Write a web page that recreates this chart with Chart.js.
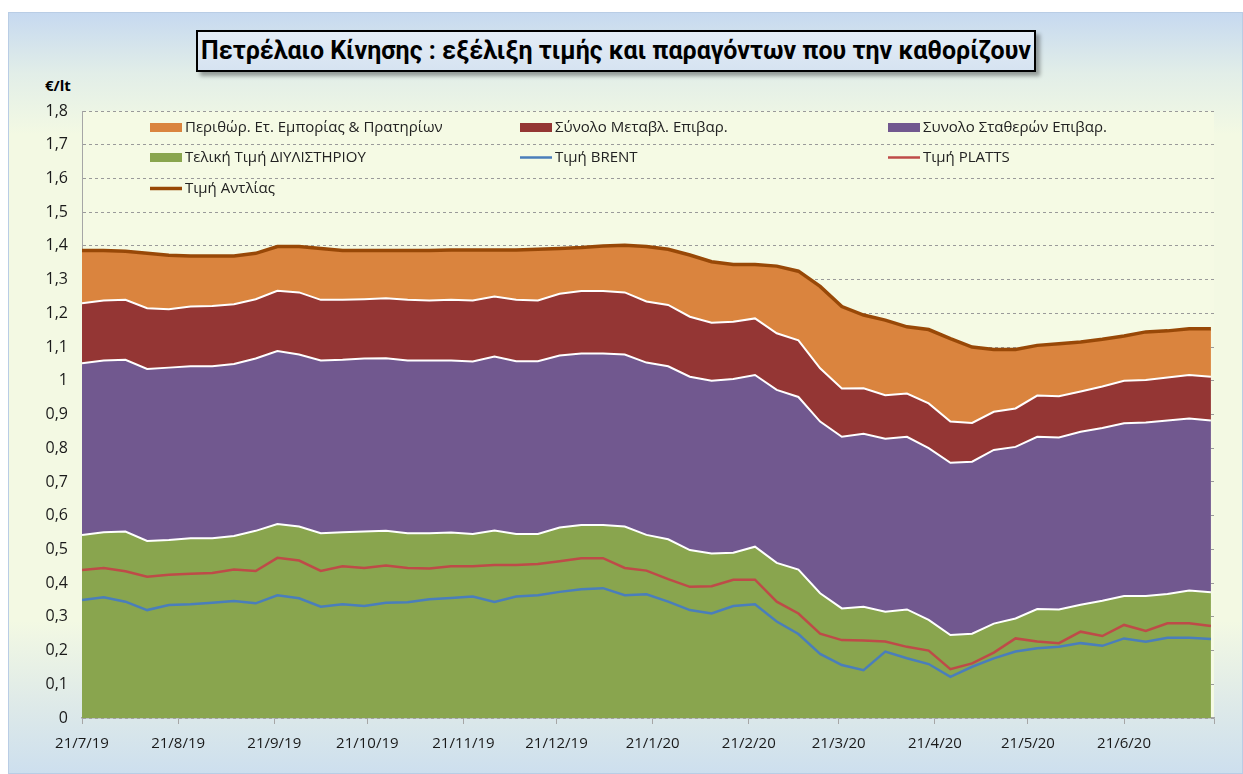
<!DOCTYPE html>
<html>
<head>
<meta charset="utf-8">
<script src="https://cdn.jsdelivr.net/npm/chart.js@4"></script>
<style>
  body{ margin:0; background:#fff; width:1243px; height:774px; overflow:hidden; font-family:"Open Sans", sans-serif; }
  #frame{
    position:absolute; left:8px; top:12px; width:1235px; height:762px;
    box-sizing:border-box; border:1px solid #B9CDE5;
    background:linear-gradient(to bottom,#C6D9F0 0%,#E2EEE8 8%,#F3F9E3 16%,#F3F9E3 80%,#E0EBE8 90%,#CDDFEE 100%);
  }
  #title{
    position:absolute; left:196px; top:30px; width:840px; height:42px; box-sizing:border-box;
    border:2px solid #000; background:linear-gradient(to bottom,#E4EDF7,#D6E3F1);
    box-shadow:4px 4px 4px rgba(0,0,0,0.35); white-space:nowrap;
    font-family:Roboto, sans-serif; font-weight:bold; font-size:25px; line-height:38px; text-align:center; color:#000;
  }
  #unit{ position:absolute; left:45px; top:75px; font-weight:bold; font-size:15px; color:#000; }
  canvas{ position:absolute; left:0; top:0; }
</style>
</head>
<body>
<div id="frame"></div>
<div id="title">Πετρέλαιο Κίνησης : εξέλιξη τιμής και παραγόντων που την καθορίζουν</div>
<div id="unit">€/lt</div>
<canvas id="chart" width="1243" height="774"></canvas>
<script>

// weekly samples
const dates = [
    '21/7/19','28/7/19','4/8/19','11/8/19','18/8/19','25/8/19','1/9/19','8/9/19','15/9/19','22/9/19','29/9/19',
    '6/10/19','13/10/19','20/10/19','27/10/19','3/11/19','10/11/19','17/11/19','24/11/19','1/12/19','8/12/19',
    '15/12/19','22/12/19','29/12/19','5/1/20','12/1/20','19/1/20','26/1/20','2/2/20','9/2/20','16/2/20','23/2/20',
    '1/3/20','8/3/20','15/3/20','22/3/20','29/3/20','5/4/20','12/4/20','19/4/20','26/4/20','3/5/20','10/5/20',
    '17/5/20','24/5/20','31/5/20','7/6/20','14/6/20','21/6/20','28/6/20','5/7/20','12/7/20','19/7/20'
];

const refineryPrice = [
    0.543,0.551,0.553,0.525,0.528,0.533,0.533,0.540,0.555,0.575,0.568,
    0.548,0.551,0.553,0.555,0.548,0.548,0.550,0.546,0.556,0.546,
    0.546,0.565,0.572,0.572,0.568,0.543,0.530,0.498,0.488,0.490,0.508,
    0.460,0.440,0.370,0.325,0.330,0.315,0.322,0.291,0.246,0.250,0.280,
    0.295,0.323,0.322,0.336,0.348,0.362,0.362,0.368,0.378,0.373
];

const fixedTaxes = [
    0.509,0.509,0.509,0.510,0.511,0.510,0.510,0.510,0.511,0.513,0.510,
    0.512,0.511,0.513,0.512,0.512,0.512,0.510,0.511,0.516,0.512,
    0.512,0.510,0.509,0.509,0.510,0.511,0.513,0.514,0.512,0.515,0.509,
    0.513,0.512,0.509,0.509,0.513,0.513,0.512,0.509,0.511,0.510,0.515,
    0.509,0.511,0.510,0.513,0.512,0.512,0.514,0.514,0.510,0.509
];

const variableTaxes = [
    0.178,0.178,0.178,0.180,0.173,0.177,0.179,0.177,0.176,0.179,0.184,
    0.180,0.178,0.176,0.178,0.180,0.178,0.180,0.181,0.178,0.182,
    0.180,0.183,0.185,0.185,0.184,0.181,0.182,0.178,0.172,0.170,0.168,
    0.168,0.168,0.158,0.143,0.135,0.129,0.128,0.133,0.122,0.115,0.113,
    0.114,0.122,0.122,0.119,0.123,0.126,0.126,0.128,0.129,0.130
];

const retailMargin = [
    0.156,0.148,0.144,0.163,0.160,0.150,0.148,0.143,0.136,0.131,0.136,
    0.152,0.146,0.144,0.141,0.146,0.148,0.148,0.150,0.138,0.148,
    0.152,0.134,0.129,0.134,0.140,0.163,0.165,0.183,0.181,0.170,0.160,
    0.199,0.205,0.243,0.243,0.217,0.223,0.198,0.219,0.246,0.225,0.185,
    0.175,0.149,0.156,0.147,0.140,0.133,0.143,0.138,0.137,0.142
];

const brentPrice = [
    0.350,0.358,0.345,0.320,0.335,0.337,0.342,0.347,0.340,0.364,0.355,
    0.330,0.337,0.332,0.342,0.343,0.352,0.356,0.360,0.344,0.360,
    0.364,0.374,0.382,0.385,0.364,0.367,0.345,0.320,0.310,0.332,0.337,
    0.286,0.249,0.190,0.157,0.142,0.197,0.177,0.160,0.122,0.152,0.177,
    0.197,0.207,0.211,0.222,0.214,0.236,0.226,0.238,0.238,0.234
];

const plattsPrice = [
    0.439,0.445,0.435,0.419,0.425,0.428,0.430,0.440,0.436,0.475,0.467,
    0.436,0.450,0.445,0.452,0.445,0.443,0.450,0.450,0.454,0.454,
    0.457,0.465,0.474,0.474,0.445,0.437,0.412,0.389,0.391,0.410,0.410,
    0.345,0.310,0.250,0.231,0.230,0.227,0.211,0.200,0.145,0.162,0.194,
    0.236,0.227,0.222,0.256,0.243,0.276,0.258,0.281,0.281,0.273
];

const pumpPrice = [
    1.386,1.386,1.384,1.378,1.372,1.370,1.370,1.370,1.378,1.398,1.398,
    1.392,1.386,1.386,1.386,1.386,1.386,1.388,1.388,1.388,1.388,
    1.390,1.392,1.395,1.400,1.402,1.398,1.390,1.373,1.353,1.345,1.345,
    1.340,1.325,1.280,1.220,1.195,1.180,1.160,1.152,1.125,1.100,1.093,
    1.093,1.105,1.110,1.115,1.123,1.133,1.145,1.148,1.154,1.154
];

const tickDates = ['21/7/19','21/8/19','21/9/19','21/10/19','21/11/19','21/12/19',
    '21/1/20','21/2/20','21/3/20','21/4/20','21/5/20','21/6/20'];

const yTicks = [0,0.1,0.2,0.3,0.4,0.5,0.6,0.7,0.8,0.9,1,1.1,1.2,1.3,1.4,1.5,1.6,1.7,1.8];

function dayOf(s){
    const p = s.split('/');
    const t = Date.UTC(2000 + Number(p[2]), Number(p[1]) - 1, Number(p[0]));
    return Math.round((t - Date.UTC(2019,6,21)) / 86400000);
}

const xs = dates.map(dayOf);
const tickDays = tickDates.map(dayOf);
const lastDay = 365;

function pts(arr){
    return arr.map((v,i)=>({x:xs[i], y:v}));
}

const FONT = '"Open Sans", sans-serif';

const areaBase = {
    pointRadius:0, borderColor:'#FFFFFF', borderWidth:2, order:1, stack:'cost', tension:0
};
const lineBase = {
    pointRadius:0, fill:false, order:0, tension:0
};

const datasets = [
    Object.assign({label:'Τελική Τιμή ΔΙΥΛΙΣΤΗΡΙΟΥ', data:pts(refineryPrice), backgroundColor:'#89A54E', fill:'origin', kind:'box'}, areaBase),
    Object.assign({label:'Συνολο Σταθερών Επιβαρ.', data:pts(fixedTaxes), backgroundColor:'#71588F', fill:'-1', kind:'box'}, areaBase),
    Object.assign({label:'Σύνολο Μεταβλ. Επιβαρ.', data:pts(variableTaxes), backgroundColor:'#943634', fill:'-1', kind:'box'}, areaBase),
    Object.assign({label:'Περιθώρ. Ετ. Εμπορίας & Πρατηρίων', data:pts(retailMargin), backgroundColor:'#DA843E', fill:'-1', kind:'box'}, areaBase),
    Object.assign({label:'Τιμή BRENT', data:pts(brentPrice), borderColor:'#4A7EBB', borderWidth:2.5, stack:'brent', kind:'line'}, lineBase),
    Object.assign({label:'Τιμή PLATTS', data:pts(plattsPrice), borderColor:'#BE4B48', borderWidth:2.5, stack:'platts', kind:'line'}, lineBase),
    Object.assign({label:'Τιμή Αντλίας', data:pts(pumpPrice), borderColor:'#984807', borderWidth:3.5, stack:'pump', kind:'line'}, lineBase)
];

// legend order as in the picture, three columns
const legendOrder = [3,2,1,0,4,5,6];

const plotBackground = {
    id:'plotBackground',
    beforeDraw(chart){
        const a = chart.chartArea, c = chart.ctx;
        c.save();
        c.fillStyle = '#F5FAE4';
        c.fillRect(a.left, a.top, a.right - a.left, a.bottom - a.top);
        c.restore();
    }
};

const customLegend = {
    id:'customLegend',
    afterDraw(chart){
        const c = chart.ctx;
        const colX = [150,520,888];
        const rowY = [127,157,188];
        c.save();
        c.font = '15px ' + FONT;
        c.textBaseline = 'middle';
        legendOrder.forEach((di,n)=>{
            const ds = chart.data.datasets[di];
            const x = colX[n % 3], y = rowY[Math.floor(n / 3)];
            if(ds.kind === 'box'){
                c.fillStyle = ds.backgroundColor;
                c.fillRect(x, y - 4, 32, 9);
            }else{
                c.strokeStyle = ds.borderColor;
                c.lineWidth = ds.borderWidth;
                c.beginPath();
                c.moveTo(x, y + 0.5);
                c.lineTo(x + 32, y + 0.5);
                c.stroke();
            }
            c.fillStyle = '#222';
            c.fillText(ds.label, x + 35, y + 1);
        });
        c.restore();
    }
};

new Chart(document.getElementById('chart'), {
    type:'line',
    data:{ datasets },
    options:{
        responsive:false,
        animation:false,
        layout:{ padding:{ top:111, right:29, bottom:0, left:0 } },
        plugins:{ legend:{display:false}, tooltip:{enabled:false}, title:{display:false} },
        scales:{
            x:{
                type:'linear', min:0, max:lastDay,
                afterBuildTicks(scale){
                    scale.ticks = tickDays.concat([lastDay]).map(v=>({value:v}));
                },
                afterFit(scale){ scale.height = 56; },
                ticks:{
                    autoSkip:false, maxRotation:0, padding:11, color:'#1a1a1a',
                    font:{ family:FONT, size:15 },
                    callback(v){
                        const i = tickDays.indexOf(v);
                        return i >= 0 ? tickDates[i] : '';
                    }
                },
                grid:{ drawOnChartArea:false, drawTicks:true, tickLength:6, color:'#A6A6A6' },
                border:{ color:'#A6A6A6', width:1.5 }
            },
            y:{
                stacked:true, min:0, max:1.8,
                afterBuildTicks(scale){
                    scale.ticks = yTicks.map(v=>({value:v}));
                },
                afterFit(scale){ scale.width = 82; },
                ticks:{
                    padding:14, color:'#1a1a1a',
                    font:{ family:FONT, size:16 },
                    callback(v){ return String(Math.round(v * 10) / 10).replace('.', ','); }
                },
                grid:{ color:'#9A9A9A', drawTicks:false, tickLength:0 },
                border:{ color:'#A6A6A6', dash:[3,3], width:1 }
            }
        }
    },
    plugins:[plotBackground, customLegend]
});
</script>
</body>
</html>
